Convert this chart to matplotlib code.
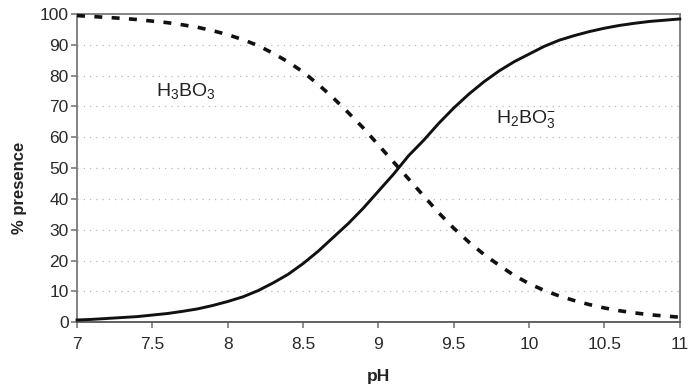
import numpy as np
import matplotlib
matplotlib.use("Agg")
import matplotlib.pyplot as plt

plt.rcParams['font.family'] = ['Liberation Sans', 'DejaVu Sans']
plt.rcParams['mathtext.fontset'] = 'custom'
plt.rcParams['mathtext.rm'] = 'Liberation Sans'
plt.rcParams['mathtext.it'] = 'Liberation Sans'

# pH values and species fractions (%)
ph = [7.0, 7.1, 7.2, 7.3, 7.4, 7.5, 7.6, 7.7, 7.8, 7.9,
      8.0, 8.1, 8.2, 8.3, 8.4, 8.5, 8.6, 8.7, 8.8, 8.9,
      9.0, 9.1, 9.2, 9.3, 9.4, 9.5, 9.6, 9.7, 9.8, 9.9,
      10.0, 10.1, 10.2, 10.3, 10.4, 10.5, 10.6, 10.7, 10.8, 10.9, 11.0]

h2bo3 = [0.7, 0.9, 1.2, 1.5, 1.8, 2.3, 2.8, 3.5, 4.3, 5.4,
         6.7, 8.2, 10.2, 12.7, 15.5, 19.0, 23.0, 27.5, 32.0, 37.0,
         42.5, 48.0, 54.0, 59.0, 64.5, 69.5, 74.0, 78.0, 81.5, 84.5,
         87.0, 89.5, 91.5, 93.0, 94.3, 95.4, 96.3, 97.0, 97.6, 98.0, 98.4]

h3bo3 = [99.5, 99.2, 98.9, 98.6, 98.2, 97.7, 97.2, 96.5, 95.7, 94.6,
         93.3, 91.7, 89.8, 87.3, 84.5, 81.2, 77.2, 72.8, 68.0, 63.0,
         57.5, 52.0, 46.5, 41.0, 35.5, 30.5, 26.0, 22.0, 18.5, 15.2,
         12.5, 10.3, 8.5, 7.0, 5.7, 4.6, 3.7, 3.0, 2.4, 2.0, 1.6]

xticks = [7, 7.5, 8, 8.5, 9, 9.5, 10, 10.5, 11]
xticklabels = ['7', '7.5', '8', '8.5', '9', '9.5', '10', '10.5', '11']
yticks = list(range(0, 101, 10))

fig = plt.figure(figsize=(6.88, 3.9), dpi=100)
ax = fig.add_axes([0.112, 0.174, 0.876, 0.79])

ax.plot(ph, h3bo3, color='#111111', linewidth=2.6, linestyle=(0, (2.2, 2.6)),
        dash_capstyle='butt', clip_on=False, zorder=3)
ax.plot(ph, h2bo3, color='#111111', linewidth=2.1, clip_on=False, zorder=3)

ax.set_xlim(7, 11)
ax.set_ylim(0, 100)
ax.set_xticks(xticks)
ax.set_xticklabels(xticklabels)
ax.set_yticks(yticks)

for y in yticks[1:-1]:
    ax.axhline(y, color='#b8b8b8', linewidth=0.9, linestyle=(0, (1, 4)), zorder=1)

for side in ['left', 'bottom', 'top', 'right']:
    ax.spines[side].set_color('#7a7a7a')
    ax.spines[side].set_linewidth(1.3)
ax.spines['bottom'].set_color('#555555')

ax.tick_params(axis='both', direction='out', length=4, width=1.2,
               colors='#7a7a7a', labelcolor='#2a2a2a', labelsize=12.5)
ax.tick_params(axis='x', pad=7)
ax.tick_params(axis='y', pad=2)

ax.set_xlabel('pH', fontsize=12.5, fontweight='bold', color='#222222', labelpad=12)
ax.set_ylabel('% presence', fontsize=12, fontweight='bold', color='#222222')
ax.yaxis.set_label_coords(-0.083, 0.435)

ax.text(7.72, 75, r'H$_3$BO$_3$', fontsize=14, color='#222222', ha='center', va='center')
ax.text(9.98, 66, r'H$_2$BO$_3^{-}$', fontsize=14, color='#222222', ha='center', va='center')

fig.savefig('out.png', dpi=100)
